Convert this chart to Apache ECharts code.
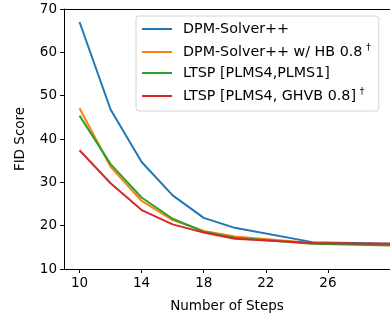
<!DOCTYPE html>
<html>
<head>
<meta charset="utf-8">
<script src="https://cdn.jsdelivr.net/npm/echarts@6/dist/echarts.min.js"></script>
<style>
  html, body { margin: 0; padding: 0; background: #fff; }
  #chart { width: 390px; height: 320px; }
</style>
</head>
<body>
<div id="chart"></div>
<script>
// values
const steps = [10, 12, 14, 16, 18, 20, 25, 30]
const dpmSolver = [67.0, 46.8, 34.7, 27.0, 21.8, 19.5, 16.2, 15.8]
const dpmSolverHB = [47.1, 33.6, 25.7, 21.3, 18.8, 17.5, 16.0, 15.6]
const ltspPlms = [45.4, 34.2, 26.5, 21.6, 18.6, 17.2, 15.8, 15.4]
const ltspGhvb = [37.4, 29.8, 23.6, 20.3, 18.4, 17.0, 16.0, 15.8]
const xTicks = [10, 14, 18, 22, 26]

const seriesDefs = [
  { name: 'DPM-Solver++', label: '{a|DPM-Solver++}', color: '#1f77b4', values: dpmSolver },
  { name: 'DPM-Solver++ w/ HB 0.8', label: '{a|DPM-Solver++ w/ HB 0.8} {s|†}', color: '#ff7f0e', values: dpmSolverHB },
  { name: 'LTSP [PLMS4,PLMS1]', label: '{a|LTSP [PLMS4,PLMS1]}', color: '#2ca02c', values: ltspPlms },
  { name: 'LTSP [PLMS4, GHVB 0.8]', label: '{a|LTSP [PLMS4, GHVB 0.8]} {s|†}', color: '#d62728', values: ltspGhvb }
]

const font = 'DejaVu Sans'
const chart = echarts.init(document.getElementById('chart'), null, { renderer: 'canvas' })

const option = {
  animation: false,
  backgroundColor: '#fff',
  textStyle: { fontFamily: font, color: '#000' },
  grid: { left: 64, right: 0, top: 9, bottom: 51 },
  legend: {
    orient: 'vertical',
    left: 136,
    top: 16,
    padding: [6, 8, 8, 6],
    itemWidth: 30,
    itemHeight: 2,
    itemGap: 7,
    backgroundColor: 'rgba(255,255,255,0.8)',
    borderColor: '#d4d4d4',
    borderWidth: 1,
    borderRadius: 3,
    data: seriesDefs.map((d) => ({ name: d.name, icon: 'rect', itemStyle: { color: d.color } })),
    formatter (name) {
      const def = seriesDefs.find((d) => d.name === name)
      return def.label
    },
    textStyle: {
      fontFamily: font,
      color: '#000',
      rich: {
        a: { fontFamily: font, fontSize: 14.3, color: '#000', padding: [0, 0, 0, 6] },
        s: { fontFamily: font, fontSize: 9, color: '#000', padding: [0, 0, 9, 0] }
      }
    }
  },
  xAxis: [
    {
      type: 'value',
      min: 9,
      max: 30,
      name: 'Number of Steps',
      nameLocation: 'middle',
      nameGap: 30,
      nameTextStyle: { fontFamily: font, fontSize: 13.5, color: '#000' },
      axisLine: { show: true, onZero: false, lineStyle: { color: '#000', width: 1 } },
      axisTick: { show: true, length: 4, customValues: xTicks, lineStyle: { color: '#000' } },
      axisLabel: { fontFamily: font, fontSize: 13.5, color: '#000', margin: 7, customValues: xTicks },
      splitLine: { show: false }
    },
    {
      type: 'value',
      position: 'top',
      min: 9,
      max: 30,
      axisLine: { show: true, onZero: false, lineStyle: { color: '#000', width: 1 } },
      axisTick: { show: false },
      axisLabel: { show: false },
      splitLine: { show: false }
    }
  ],
  yAxis: {
    type: 'value',
    min: 10,
    max: 70,
    interval: 10,
    name: 'FID Score',
    nameLocation: 'middle',
    nameGap: 37,
    nameTextStyle: { fontFamily: font, fontSize: 13.5, color: '#000' },
    axisLine: { show: true, lineStyle: { color: '#000', width: 1 } },
    axisTick: { show: true, length: 4, lineStyle: { color: '#000' } },
    axisLabel: { fontFamily: font, fontSize: 13.5, color: '#000', margin: 7 },
    splitLine: { show: false }
  },
  series: seriesDefs.map((d) => ({
    name: d.name,
    type: 'line',
    xAxisIndex: 0,
    symbol: 'none',
    color: d.color,
    lineStyle: { color: d.color, width: 2 },
    data: steps.map((s, i) => [s, d.values[i]])
  }))
}

chart.setOption(option)
</script>
</body>
</html>
